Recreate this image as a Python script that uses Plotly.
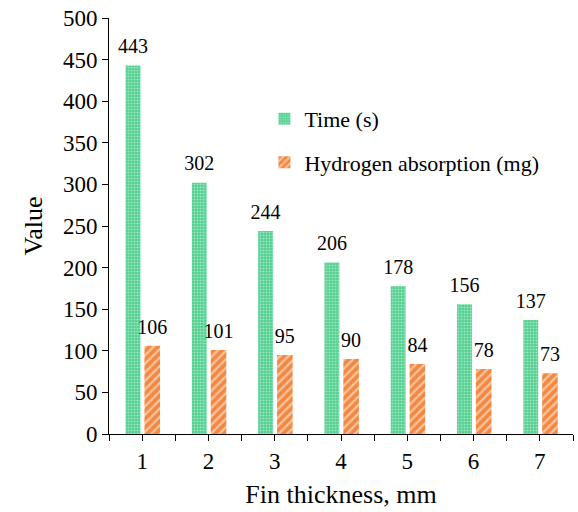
import plotly.graph_objects as go

categories = [1, 2, 3, 4, 5, 6, 7]
time_s = [443, 302, 244, 206, 178, 156, 137]
hydrogen_mg = [106, 101, 95, 90, 84, 78, 73]

FONT = "Liberation Serif, Times New Roman, serif"

G_OFF, G_W = -0.25, 0.225
H_OFF, H_W = 0.035, 0.235

fig = go.Figure()
fig.add_trace(go.Bar(
    x=categories, y=time_s, name="Time (s)", legendgroup="a",
    offset=G_OFF, width=G_W,
    marker=dict(color="#52d090", line=dict(width=0),
                pattern=dict(shape=".", fgcolor="#e2f8ec", fillmode="overlay", size=3, solidity=0.4)),
))
fig.add_trace(go.Bar(
    x=categories, y=hydrogen_mg, name="Hydrogen absorption (mg)", legendgroup="b",
    offset=H_OFF, width=H_W,
    marker=dict(color="#f4873f", line=dict(width=0),
                pattern=dict(shape="/", fgcolor="white", fillmode="overlay", size=6, solidity=0.4)),
))
# value labels
fig.add_trace(go.Scatter(
    x=[c + G_OFF + G_W / 2 for c in categories], y=time_s, mode="markers+text",
    text=[str(v) for v in time_s], textposition="top center",
    marker=dict(size=10, color="rgba(0,0,0,0)"), showlegend=False, hoverinfo="skip",
    textfont=dict(family=FONT, size=20, color="black"), cliponaxis=False,
))
fig.add_trace(go.Scatter(
    x=[c + H_OFF + H_W / 2 for c in categories], y=hydrogen_mg, mode="markers+text",
    text=[str(v) for v in hydrogen_mg], textposition="top center",
    marker=dict(size=10, color="rgba(0,0,0,0)"), showlegend=False, hoverinfo="skip",
    textfont=dict(family=FONT, size=20, color="black"), cliponaxis=False,
))

tickvals = [0.5 + 0.5 * i for i in range(15)]
ticktext = [str(int(v)) if v == int(v) else "" for v in tickvals]

fig.update_layout(
    width=578, height=512,
    margin=dict(l=109, r=5, t=18, b=78),
    plot_bgcolor="white", paper_bgcolor="white",
    barmode="overlay",
    font=dict(family=FONT, size=23, color="black"),
    showlegend=True,
    legend=dict(x=0.335, y=0.808, xanchor="left", yanchor="top",
                font=dict(family=FONT, size=22), tracegroupgap=12,
                bgcolor="rgba(0,0,0,0)", itemwidth=30),
    xaxis=dict(range=[0.5, 7.5], tickvals=tickvals, ticktext=ticktext,
               ticks="outside", ticklen=6, tickcolor="black", showline=True,
               linecolor="black", linewidth=1, showgrid=False, zeroline=False,
               tickfont=dict(size=23),
               title=dict(text="Fin thickness, mm", font=dict(size=26), standoff=12)),
    yaxis=dict(range=[0, 500], dtick=50, ticks="outside", ticklen=6, tickcolor="black",
               showline=True, linecolor="black", linewidth=1, showgrid=False, zeroline=False,
               tickfont=dict(size=23),
               title=dict(text="Value", font=dict(size=26), standoff=12)),
)

fig.write_html("out.html")
